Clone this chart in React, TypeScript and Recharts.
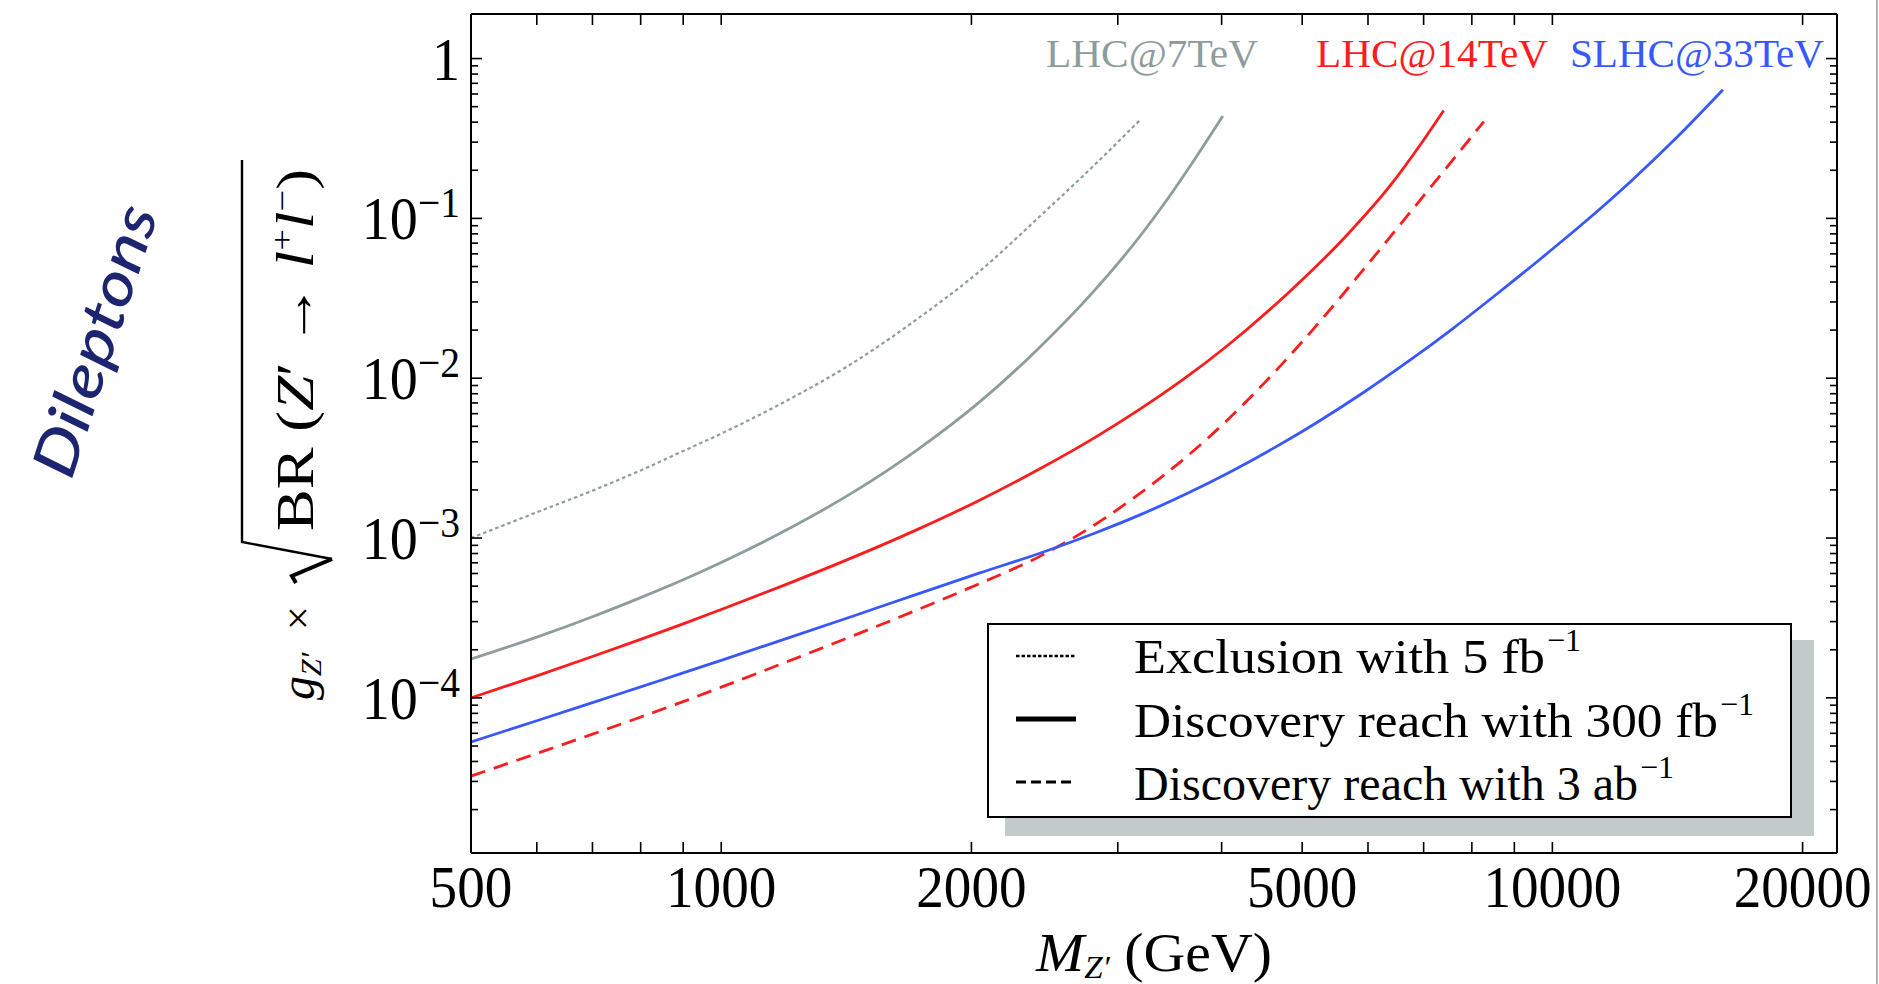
import React from "react";
import { LineChart, Line, XAxis, YAxis } from "recharts";

const serif = "'Liberation Serif', 'Times New Roman', serif";

const GREY = "#8d9d9b";
const RED = "#ff1c1c";
const BLUE = "#3858ff";

// Z' mass (GeV) and coupling reach
const lhc7ExclMass = [500, 600, 700, 800, 900, 1000, 1185, 1445, 1718, 2043, 2427, 2818, 3187];
const lhc7ExclCoupling = [1.0e-3, 1.45e-3, 1.98e-3, 2.65e-3, 3.5e-3, 4.5e-3, 7.0e-3, 0.0126, 0.0233, 0.0464, 0.105, 0.218, 0.41];

const lhc7DiscMass = [500, 600, 700, 800, 900, 1000, 1185, 1445, 1718, 2043, 2400, 2818, 3190, 3437, 3704, 4013];
const lhc7DiscCoupling = [1.75e-4, 2.4e-4, 3.22e-4, 4.24e-4, 5.48e-4, 7.03e-4, 1.09e-3, 1.95e-3, 3.54e-3, 7.06e-3, 0.01507, 0.0358, 0.0773, 0.1303, 0.2301, 0.4365];

const lhc14DiscMass = [500, 600, 700, 800, 900, 1000, 1185, 1445, 1718, 2043, 2427, 2818, 3190, 3613, 4039, 4802, 5640, 6383, 6960, 7400];
const lhc14DiscCoupling = [1.0e-4, 1.374e-4, 1.816e-4, 2.323e-4, 2.904e-4, 3.573e-4, 5.02e-4, 7.62e-4, 1.125e-3, 1.718e-3, 2.742e-3, 4.266e-3, 6.4e-3, 0.01, 0.01556, 0.0339, 0.0771, 0.1607, 0.2965, 0.473];

const lhc14HLMass = [500, 600, 700, 800, 900, 1000, 1185, 1445, 1718, 2043, 2427, 2818, 3190, 3613, 4085, 4626, 5238, 5931, 6700, 7590, 8270];
const lhc14HLCoupling = [3.24e-5, 4.49e-5, 5.93e-5, 7.59e-5, 9.48e-5, 1.167e-4, 1.641e-4, 2.46e-4, 3.54e-4, 5.176e-4, 7.762e-4, 1.216e-3, 1.901e-3, 3.162e-3, 5.61e-3, 0.01084, 0.02228, 0.04819, 0.1047, 0.2323, 0.4036];

const slhc33Mass = [500, 600, 700, 800, 900, 1000, 1185, 1445, 1718, 2043, 2427, 2818, 3190, 3613, 4085, 4626, 5238, 5931, 6700, 7590, 8590, 9730, 11000, 12450, 14090, 16040];
const slhc33Coupling = [5.3e-5, 7.19e-5, 9.33e-5, 1.172e-4, 1.432e-4, 1.718e-4, 2.307e-4, 3.266e-4, 4.446e-4, 6.026e-4, 8.09e-4, 1.076e-3, 1.396e-3, 1.871e-3, 2.57e-3, 3.664e-3, 5.383e-3, 8.166e-3, 0.01268, 0.02046, 0.03388, 0.05715, 0.09727, 0.1722, 0.3184, 0.6383];

const xDomain = [500, 22000];
const yDomain = [1.07e-5, 1.9];

const xTicks = [500, 600, 700, 800, 900, 1000, 2000, 3000, 4000, 5000, 6000, 7000, 8000, 9000, 10000, 20000];
const xTickLabels = [500, 1000, 2000, 5000, 10000, 20000];

const yMajorTicks = [1e-4, 1e-3, 1e-2, 1e-1, 1];
const yMajorExponents = ["−4", "−3", "−2", "−1", ""];
const yDecades = [1e-5, 1e-4, 1e-3, 1e-2, 1e-1];
const yMinorSteps = [2, 3, 4, 5, 6, 7, 8, 9];
const yTicks = [...yMajorTicks, ...yDecades.flatMap((d) => yMinorSteps.map((s) => s * d))].filter(
  (v) => v >= yDomain[0] && v <= yDomain[1]
);

const series = [
  { name: "LHC@7TeV exclusion 5 fb-1", mass: lhc7ExclMass, coupling: lhc7ExclCoupling, color: GREY, width: 2.2, dash: "3.5 3" },
  { name: "LHC@7TeV discovery 300 fb-1", mass: lhc7DiscMass, coupling: lhc7DiscCoupling, color: GREY, width: 2.8, dash: undefined },
  { name: "LHC@14TeV discovery 300 fb-1", mass: lhc14DiscMass, coupling: lhc14DiscCoupling, color: RED, width: 2.8, dash: undefined },
  { name: "LHC@14TeV discovery 3 ab-1", mass: lhc14HLMass, coupling: lhc14HLCoupling, color: RED, width: 2.8, dash: "15 9" },
  { name: "SLHC@33TeV discovery 300 fb-1", mass: slhc33Mass, coupling: slhc33Coupling, color: BLUE, width: 2.8, dash: undefined },
];

const axisStyle = { stroke: "#000", strokeWidth: 2 };

function majorIndex(v: number) {
  return yMajorTicks.findIndex((m) => Math.abs(Math.log10(v) - Math.log10(m)) < 1e-6);
}

function BottomTick(props: any) {
  const { x, y, payload } = props;
  const v = payload.value;
  return (
    <g>
      <line x1={x} x2={x} y1={y} y2={y - 11} stroke="#000" strokeWidth={1.6} />
      {xTickLabels.includes(v) && (
        <text transform={`translate(${x} ${y + 54}) scale(0.92 1)`} textAnchor="middle" fontFamily={serif} fontSize={60} fill="#000">
          {v}
        </text>
      )}
    </g>
  );
}

function TopTick(props: any) {
  const { x, y } = props;
  return <line x1={x} x2={x} y1={y} y2={y + 11} stroke="#000" strokeWidth={1.6} />;
}

function LeftTick(props: any) {
  const { x, y, payload } = props;
  const idx = majorIndex(payload.value);
  const len = idx >= 0 ? 11 : 7;
  return (
    <g>
      <line x1={x} x2={x + len} y1={y} y2={y} stroke="#000" strokeWidth={1.6} />
      {idx >= 0 && (
        <text transform={`translate(${x - 11} ${y + 21}) scale(0.92 1)`} textAnchor="end" fontFamily={serif} fontSize={61} fill="#000">
          {yMajorExponents[idx] === "" ? "1" : "10"}
          {yMajorExponents[idx] !== "" && (
            <tspan dy={-22} fontSize={43}>
              {yMajorExponents[idx]}
            </tspan>
          )}
        </text>
      )}
    </g>
  );
}

function RightTick(props: any) {
  const { x, y, payload } = props;
  const len = majorIndex(payload.value) >= 0 ? 11 : 7;
  return <line x1={x} x2={x - len} y1={y} y2={y} stroke="#000" strokeWidth={1.6} />;
}

function Overlay() {
  return (
    <svg width={1879} height={984} style={{ position: "absolute", left: 0, top: 0, pointerEvents: "none" }}>
      {/* side caption */}
      <text
        transform="translate(93 340) rotate(-72)"
        textAnchor="middle"
        dominantBaseline="central"
        fontFamily="Lato, 'Open Sans', sans-serif"
        fontStyle="italic"
        fontWeight={500}
        fontSize={60}
        fill="#1d2570"
        textLength={282}
        lengthAdjust="spacingAndGlyphs"
      >
        Dileptons
      </text>

      {/* y axis title */}
      <g transform="rotate(-90)" fontFamily={serif} fill="#000">
        <text x={-700} y={314} fontSize={48} fontStyle="italic">
          g
          <tspan fontSize={30} dy={7}>
            Z′
          </tspan>
        </text>
        <text x={-630} y={312} fontSize={42}>
          ×
        </text>
        <text x={-531} y={313} fontSize={52} textLength={362} lengthAdjust="spacingAndGlyphs">
          BR (<tspan fontStyle="italic">Z</tspan>′ → <tspan fontStyle="italic">l</tspan>
          <tspan fontSize={32} dy={-20}>+</tspan>
          <tspan fontStyle="italic" dy={20}>l</tspan>
          <tspan fontSize={32} dy={-20}>−</tspan>
          <tspan dy={20}>)</tspan>
        </text>
      </g>
      <path d="M 242 160 L 242 542 L 332 559" fill="none" stroke="#000" strokeWidth={2.4} />
      <path d="M 332 559 L 292 576 L 296 583" fill="none" stroke="#000" strokeWidth={4} strokeLinejoin="miter" />

      {/* x axis title */}
      <text x={1036} y={971} fontFamily={serif} fontSize={54} fill="#000" textLength={236} lengthAdjust="spacingAndGlyphs">
        <tspan fontStyle="italic">M</tspan>
        <tspan fontStyle="italic" fontSize={31} dy={7}>
          Z′
        </tspan>
        <tspan dy={-7}> (GeV)</tspan>
      </text>

      {/* collider labels */}
      <text x={1046} y={67} fontFamily={serif} fontSize={41} fill={GREY} textLength={212} lengthAdjust="spacingAndGlyphs">
        LHC@7TeV
      </text>
      <text x={1316} y={67} fontFamily={serif} fontSize={41} fill={RED} textLength={232} lengthAdjust="spacingAndGlyphs">
        LHC@14TeV
      </text>
      <text x={1570} y={67} fontFamily={serif} fontSize={41} fill={BLUE} textLength={254} lengthAdjust="spacingAndGlyphs">
        SLHC@33TeV
      </text>

      {/* legend */}
      <rect x={1005} y={640} width={809} height={196} fill="#c3cbca" />
      <rect x={988} y={624} width={803} height={193} fill="#fff" stroke="#000" strokeWidth={2} />
      <line x1={1016} x2={1076} y1={656} y2={656} stroke="#000" strokeWidth={2.4} strokeDasharray="3.5 2" />
      <line x1={1016} x2={1076} y1={719} y2={719} stroke="#000" strokeWidth={5} />
      <line x1={1016} x2={1076} y1={782} y2={782} stroke="#000" strokeWidth={3} strokeDasharray="10 5" />
      <g fontFamily={serif} fill="#000">
        <text x={1134} y={673} fontSize={48} textLength={411} lengthAdjust="spacingAndGlyphs">
          Exclusion with 5 fb
        </text>
        <text x={1547} y={651} fontSize={32}>
          −1
        </text>
        <text x={1134} y={737} fontSize={48} textLength={584} lengthAdjust="spacingAndGlyphs">
          Discovery reach with 300 fb
        </text>
        <text x={1720} y={715} fontSize={32}>
          −1
        </text>
        <text x={1134} y={800} fontSize={48} textLength={504} lengthAdjust="spacingAndGlyphs">
          Discovery reach with 3 ab
        </text>
        <text x={1640} y={778} fontSize={32}>
          −1
        </text>
      </g>
      <line x1={1877} x2={1877} y1={0} y2={984} stroke="#9a9a9a" strokeWidth={1.5} />
    </svg>
  );
}

export default function App() {
  return (
    <div style={{ position: "fixed", left: 0, top: 0, width: 1879, height: 984, background: "#fff", overflow: "hidden" }}>
      <LineChart width={1879} height={984} margin={{ top: 12, right: 40, bottom: 31, left: 371 }}>
        <XAxis
          xAxisId="b"
          orientation="bottom"
          type="number"
          dataKey="x"
          scale="log"
          domain={xDomain}
          allowDataOverflow
          ticks={xTicks}
          interval={0}
          height={100}
          tickSize={0}
          tickMargin={0}
          tickLine={false}
          axisLine={axisStyle}
          tick={(p: any) => <BottomTick {...p} />}
        />
        <XAxis
          xAxisId="t"
          orientation="top"
          type="number"
          dataKey="x"
          scale="log"
          domain={xDomain}
          allowDataOverflow
          ticks={xTicks}
          interval={0}
          height={2}
          tickSize={0}
          tickMargin={0}
          tickLine={false}
          axisLine={axisStyle}
          tick={(p: any) => <TopTick {...p} />}
        />
        <YAxis
          yAxisId="l"
          orientation="left"
          type="number"
          dataKey="y"
          scale="log"
          domain={yDomain}
          allowDataOverflow
          ticks={yTicks}
          interval={0}
          width={100}
          tickSize={0}
          tickMargin={0}
          tickLine={false}
          axisLine={axisStyle}
          tick={(p: any) => <LeftTick {...p} />}
        />
        <YAxis
          yAxisId="r"
          orientation="right"
          type="number"
          dataKey="y"
          scale="log"
          domain={yDomain}
          allowDataOverflow
          ticks={yTicks}
          interval={0}
          width={2}
          tickSize={0}
          tickMargin={0}
          tickLine={false}
          axisLine={axisStyle}
          tick={(p: any) => <RightTick {...p} />}
        />
        {series.map((s) => (
          <Line
            key={s.name}
            xAxisId="b"
            yAxisId="l"
            data={s.mass.map((m, i) => ({ x: m, y: s.coupling[i] }))}
            dataKey="y"
            type="monotone"
            stroke={s.color}
            strokeWidth={s.width}
            strokeDasharray={s.dash}
            dot={false}
            activeDot={false}
            isAnimationActive={false}
          />
        ))}
      </LineChart>
      <Overlay />
    </div>
  );
}
